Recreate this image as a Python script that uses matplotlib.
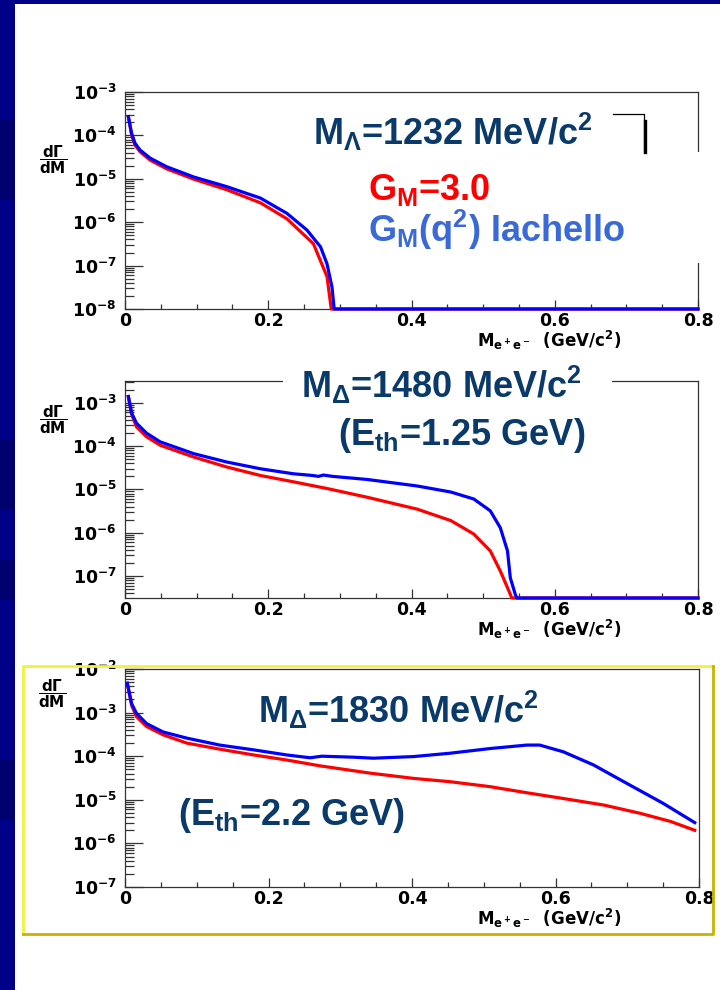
import matplotlib
matplotlib.use("Agg")
import matplotlib.pyplot as plt
from matplotlib.patches import Rectangle
from matplotlib.lines import Line2D
from matplotlib.ticker import LogLocator, MultipleLocator, FixedLocator, NullFormatter

plt.rcParams['font.family'] = ['Liberation Sans', 'DejaVu Sans']
plt.rcParams['font.weight'] = 'bold'
plt.rcParams['mathtext.fontset'] = 'custom'
plt.rcParams['mathtext.rm'] = 'Liberation Sans:bold'
plt.rcParams['mathtext.bf'] = 'Liberation Sans:bold'
plt.rcParams['mathtext.it'] = 'Liberation Sans:bold'
plt.rcParams['mathtext.sf'] = 'Liberation Sans:bold'

# ---------------- data ----------------
# Panel 1: M = 1232 MeV/c^2
p1_x_blue = [0.0047, 0.0093, 0.014, 0.021, 0.035, 0.058, 0.096, 0.142, 0.189, 0.226, 0.254, 0.273, 0.282, 0.289, 0.292, 0.8]
p1_y_blue = [2.7e-4, 1.1e-4, 6.6e-5, 4.6e-5, 3.0e-5, 1.9e-5, 1.1e-5, 6.6e-6, 3.6e-6, 1.6e-6, 6.6e-7, 2.7e-7, 1.1e-7, 3.2e-8, 1e-8, 1e-8]
p1_x_red = [0.0047, 0.0093, 0.014, 0.021, 0.035, 0.058, 0.096, 0.142, 0.189, 0.226, 0.263, 0.282, 0.288, 0.8]
p1_y_red = [2.7e-4, 1.0e-4, 6.0e-5, 4.2e-5, 2.7e-5, 1.7e-5, 9.8e-6, 5.6e-6, 2.8e-6, 1.2e-6, 3.2e-7, 5.6e-8, 1e-8, 1e-8]

# Panel 2: M = 1480 MeV/c^2
p2_x_blue = [0.0047, 0.0093, 0.016, 0.030, 0.049, 0.096, 0.142, 0.189, 0.235, 0.262, 0.270, 0.277, 0.290, 0.338, 0.408, 0.455, 0.487, 0.510, 0.524, 0.534, 0.538, 0.545, 0.547, 0.8]
p2_y_blue = [1.4e-3, 5.8e-4, 3.4e-4, 2.0e-4, 1.26e-4, 6.7e-5, 4.3e-5, 3.0e-5, 2.3e-5, 2.1e-5, 2.0e-5, 2.15e-5, 2.0e-5, 1.7e-5, 1.2e-5, 8.7e-6, 6.0e-6, 3.2e-6, 1.3e-6, 3.8e-7, 9e-8, 3.7e-8, 3.1e-8, 3.1e-8]
p2_x_red = [0.0047, 0.0093, 0.016, 0.030, 0.049, 0.096, 0.142, 0.189, 0.235, 0.282, 0.338, 0.408, 0.455, 0.487, 0.510, 0.524, 0.536, 0.540, 0.8]
p2_y_red = [1.4e-3, 5.4e-4, 2.8e-4, 1.65e-4, 1.05e-4, 5.6e-5, 3.3e-5, 2.1e-5, 1.5e-5, 1.05e-5, 6.6e-6, 3.5e-6, 1.9e-6, 9.3e-7, 3.8e-7, 1.3e-7, 4.5e-8, 3.1e-8, 3.1e-8]

# Panel 3: M = 1830 MeV/c^2
p3_x_blue = [0.0032, 0.0093, 0.016, 0.030, 0.053, 0.086, 0.132, 0.179, 0.225, 0.258, 0.274, 0.318, 0.346, 0.402, 0.453, 0.509, 0.560, 0.578, 0.611, 0.653, 0.699, 0.750, 0.794]
p3_y_blue = [4.7e-3, 1.6e-3, 9.6e-4, 5.6e-4, 3.6e-4, 2.6e-4, 1.8e-4, 1.4e-4, 1.07e-4, 9.2e-5, 1.0e-4, 9.5e-5, 9.0e-5, 9.8e-5, 1.17e-4, 1.5e-4, 1.8e-4, 1.8e-4, 1.26e-4, 6.3e-5, 2.4e-5, 8.3e-6, 3.0e-6]
p3_x_red = [0.0032, 0.0093, 0.016, 0.030, 0.053, 0.086, 0.132, 0.179, 0.225, 0.272, 0.341, 0.402, 0.453, 0.509, 0.560, 0.611, 0.667, 0.718, 0.760, 0.794]
p3_y_red = [4.7e-3, 1.45e-3, 8.1e-4, 4.8e-4, 3.1e-4, 2.0e-4, 1.45e-4, 1.07e-4, 8.2e-5, 6.0e-5, 4.1e-5, 3.1e-5, 2.6e-5, 2.0e-5, 1.45e-5, 1.07e-5, 7.6e-6, 4.9e-6, 3.2e-6, 2.0e-6]

panels = [
    dict(xb=p1_x_blue, yb=p1_y_blue, xr=p1_x_red, yr=p1_y_red, ylim=(1e-8, 1e-3), decades=[-8, -7, -6, -5, -4, -3]),
    dict(xb=p2_x_blue, yb=p2_y_blue, xr=p2_x_red, yr=p2_y_red, ylim=(3.1e-8, 3.2e-3), decades=[-7, -6, -5, -4, -3]),
    dict(xb=p3_x_blue, yb=p3_y_blue, xr=p3_x_red, yr=p3_y_red, ylim=(1e-7, 1e-2), decades=[-7, -6, -5, -4, -3, -2]),
]
xtick_labels = ['0', '0.2', '0.4', '0.6', '0.8']
xtick_vals = [0.0, 0.2, 0.4, 0.6, 0.8]

W, H = 720, 990
fig = plt.figure(figsize=(7.2, 9.9), dpi=100)
fig.patch.set_facecolor('#000088')


def fx(px):
    return px / W


def fy(py):
    return 1 - py / H


# white slide area
fig.patches.append(Rectangle((fx(15), 0), 1 - fx(15), fy(4), transform=fig.transFigure,
                             facecolor='white', edgecolor='none', zorder=-2))
# darker bands on left stripe
for (y0, y1) in [(440, 510), (560, 600), (120, 200), (760, 820)]:
    fig.patches.append(Rectangle((0, fy(y1)), fx(15), fy(y0) - fy(y1), transform=fig.transFigure,
                                 facecolor='#00006e', edgecolor='none', zorder=-2))

# yellow frame around panel 3
fig.lines.append(Line2D([fx(23), fx(23), fx(713)], [fy(934), fy(666), fy(666)], transform=fig.transFigure,
                        color='#f4f13a', lw=2.0, zorder=1))
fig.lines.append(Line2D([fx(23), fx(713), fx(713)], [fy(934), fy(934), fy(666)], transform=fig.transFigure,
                        color='#c8b400', lw=2.0, zorder=1))

tickfont = dict(family='DejaVu Sans', weight='bold', size=12.5)

axes_px = [(125, 698, 92, 309), (125, 698, 381, 598), (125, 699, 669, 887)]
axs = []
for (l, r, t, b), p in zip(axes_px, panels):
    ax = fig.add_axes([fx(l), fy(b), fx(r) - fx(l), fy(t) - fy(b)])
    ax.set_facecolor('white')
    ax.set_yscale('log')
    ax.set_xlim(0, 0.8)
    ax.set_ylim(*p['ylim'])
    ax.plot(p['xr'], p['yr'], color='#ff0000', lw=2.3, clip_on=False, zorder=3)
    ax.plot(p['xb'], p['yb'], color='#0000ff', lw=2.3, clip_on=False, zorder=4)
    for s in ax.spines.values():
        s.set_color('#333333')
        s.set_linewidth(0.9)
    ax.xaxis.set_major_locator(FixedLocator(xtick_vals))
    ax.set_xticklabels(xtick_labels, fontdict=tickfont)
    ax.xaxis.set_minor_locator(MultipleLocator(0.05))
    ax.yaxis.set_major_locator(FixedLocator([10.0 ** d for d in p['decades']]))
    ylabs = ax.set_yticklabels([r'$\mathbf{10^{%d}}$' % d for d in p['decades']], fontdict=tickfont)
    for lab in ylabs:
        lab.set_math_fontfamily('dejavusans')
    ax.yaxis.set_minor_locator(LogLocator(base=10, subs=[2, 3, 4, 5, 6, 7, 8, 9], numticks=20))
    ax.yaxis.set_minor_formatter(NullFormatter())
    ax.tick_params(axis='x', which='major', direction='in', length=6.5, width=0.9, pad=2,
                   color='#333333', top=False, bottom=True)
    ax.tick_params(axis='x', which='minor', direction='in', length=3.5, width=0.9,
                   color='#333333', top=False, bottom=True)
    ax.tick_params(axis='y', which='major', direction='in', length=13, width=0.9, pad=6,
                   color='#333333', left=True, right=False)
    ax.tick_params(axis='y', which='minor', direction='in', length=6.5, width=0.9,
                   color='#333333', left=True, right=False)
    axs.append(ax)
    # x-axis title
    xt = fig.text(fx(621), fy(b + 38), r'M$_{\mathbf{e^+e^-}}$  (GeV/c$^{\mathbf{2}}$)', ha='right', va='baseline',
                  fontsize=12, fontweight='bold', family='DejaVu Sans', color='black')
    xt.set_math_fontfamily('dejavusans')

# y-axis titles (fraction)
for (xc, yc) in [(53, 160), (53, 420), (52, 694)]:
    yt = fig.text(fx(xc), fy(yc), r'$\mathbf{\dfrac{d\Gamma}{dM}}$', ha='center', va='center', fontsize=11,
                  color='black')
    yt.set_math_fontfamily('dejavusans')

navy = '#0a3a6a'
TS = 26
# panel 1 legend area (white box covering part of the frame)
fig.patches.append(Rectangle((fx(355), fy(263)), fx(702) - fx(355), fy(152) - fy(263), transform=fig.transFigure,
                             facecolor='white', edgecolor='none', zorder=5))
fig.text(fx(313), fy(145), r'M$_\mathbf{\Lambda}$=1232 MeV/c$^\mathbf{2}$', ha='left', va='baseline',
         fontsize=TS, fontweight='bold', color=navy, zorder=6)
fig.text(fx(368), fy(200), r'G$_\mathbf{M}$=3.0', ha='left', va='baseline',
         fontsize=TS, fontweight='bold', color='#ff0000', zorder=6)
fig.text(fx(368), fy(242), r'G$_\mathbf{M}$(q$^\mathbf{2}$) Iachello', ha='left', va='baseline',
         fontsize=TS, fontweight='bold', color='#3a6ad8', zorder=6)
# fragment of a title box
fig.lines.append(Line2D([fx(613), fx(644), fx(644)], [fy(114), fy(114), fy(152)], transform=fig.transFigure,
                        color='black', lw=0.9, zorder=6))
fig.lines.append(Line2D([fx(645), fx(645)], [fy(121), fy(152)], transform=fig.transFigure,
                        color='black', lw=2.4, zorder=6))

# panel 2 title
fig.patches.append(Rectangle((fx(283), fy(460)), fx(612) - fx(283), fy(366) - fy(460), transform=fig.transFigure,
                             facecolor='white', edgecolor='none', zorder=5))
fig.text(fx(301), fy(398), r'M$_\mathbf{\Delta}$=1480 MeV/c$^\mathbf{2}$', ha='left', va='baseline',
         fontsize=TS, fontweight='bold', color=navy, zorder=6)
fig.text(fx(338), fy(445), r'(E$_\mathbf{th}$=1.25 GeV)', ha='left', va='baseline',
         fontsize=TS, fontweight='bold', color=navy, zorder=6)

# panel 3 texts
fig.text(fx(258), fy(723), r'M$_\mathbf{\Delta}$=1830 MeV/c$^\mathbf{2}$', ha='left', va='baseline',
         fontsize=TS, fontweight='bold', color=navy, zorder=6)
fig.text(fx(178), fy(825), r'(E$_\mathbf{th}$=2.2 GeV)', ha='left', va='baseline',
         fontsize=TS, fontweight='bold', color=navy, zorder=6)

fig.savefig('out.png', dpi=100, facecolor=fig.get_facecolor())
